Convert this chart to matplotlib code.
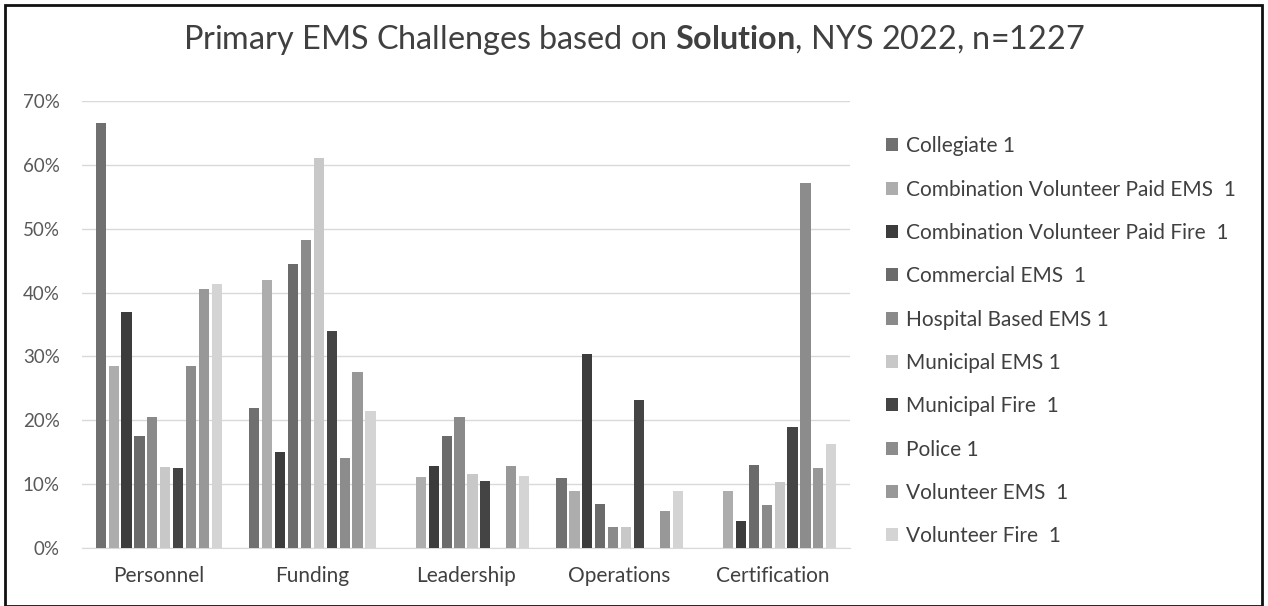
import matplotlib
matplotlib.use("Agg")
import matplotlib.pyplot as plt
import numpy as np
from matplotlib.patches import Rectangle

categories = ["Personnel", "Funding", "Leadership", "Operations", "Certification"]
series_names = [
    "Collegiate 1",
    "Combination Volunteer Paid EMS  1",
    "Combination Volunteer Paid Fire  1",
    "Commercial EMS  1",
    "Hospital Based EMS 1",
    "Municipal EMS 1",
    "Municipal Fire  1",
    "Police 1",
    "Volunteer EMS  1",
    "Volunteer Fire  1",
]
collegiate = [66.6, 22.0, 0.0, 10.9, 0.0]
combo_ems = [28.5, 42.0, 11.1, 8.9, 8.9]
combo_fire = [36.9, 15.0, 12.9, 30.4, 4.3]
commercial = [17.6, 44.5, 17.6, 6.9, 13.0]
hospital = [20.5, 48.3, 20.5, 3.3, 6.8]
muni_ems = [12.7, 61.1, 11.6, 3.3, 10.4]
muni_fire = [12.6, 34.0, 10.5, 23.2, 19.0]
police = [28.5, 14.1, 0.0, 0.0, 57.2]
vol_ems = [40.5, 27.5, 12.9, 5.8, 12.6]
vol_fire = [41.3, 21.4, 11.2, 8.9, 16.3]
series = [collegiate, combo_ems, combo_fire, commercial, hospital,
          muni_ems, muni_fire, police, vol_ems, vol_fire]
colors = ["#707070", "#adadad", "#3c3c3c", "#6b6b6b", "#8a8a8a",
          "#c8c8c8", "#444444", "#8c8c8c", "#989898", "#d4d4d4"]

plt.rcParams['font.family'] = ['Lato', 'DejaVu Sans']
plt.rcParams['mathtext.fontset'] = 'custom'
plt.rcParams['mathtext.rm'] = 'Lato'
plt.rcParams['mathtext.bf'] = 'Lato:bold'

fig = plt.figure(figsize=(12.68, 6.06), dpi=100)
ax = fig.add_axes([82/1268, 1-548/606, (850-82)/1268, (548-101)/606])

x = np.arange(len(categories))
slot = 0.084
bw = 0.066
n = len(series)
for i, (vals, c, name) in enumerate(zip(series, colors, series_names)):
    ax.bar(x + (i - (n-1)/2) * slot, vals, width=bw, color=c, label=name, zorder=3)

ax.set_xlim(-0.5, len(categories) - 0.5)
ax.set_ylim(0, 70)
ax.set_yticks(np.arange(0, 71, 10))
ax.set_yticklabels([f"{v}%" for v in range(0, 71, 10)], fontsize=13.5, color="#595959")
ax.set_xticks(x)
ax.set_xticklabels(categories, fontsize=15, color="#404040")
ax.grid(axis="y", color="#d9d9d9", linewidth=1, zorder=0)
for s in ["top", "right", "left"]:
    ax.spines[s].set_visible(False)
ax.spines["bottom"].set_color("#d9d9d9")
ax.tick_params(axis="both", length=0)
ax.tick_params(axis="y", pad=16)
ax.tick_params(axis="x", pad=13)

fig.text(0.5, 1-40/606, "Primary EMS Challenges based on $\\mathbf{Solution}$, NYS 2022, n=1227",
         ha="center", va="center", fontsize=23.3, color="#404040")

leg = ax.legend(loc="upper left", bbox_to_anchor=(880/1268, 1-130/606),
                bbox_transform=fig.transFigure, frameon=False, fontsize=15,
                labelspacing=1.12, handlelength=0.58, handleheight=0.58,
                handletextpad=0.35, borderaxespad=0, borderpad=0.3,
                labelcolor="#404040")

fig.add_artist(Rectangle((5/1268, 0), 1257/1268, 1-5/606, transform=fig.transFigure,
                         fill=False, edgecolor="#111111", linewidth=2))

fig.savefig("out.png", dpi=100, facecolor="white")
